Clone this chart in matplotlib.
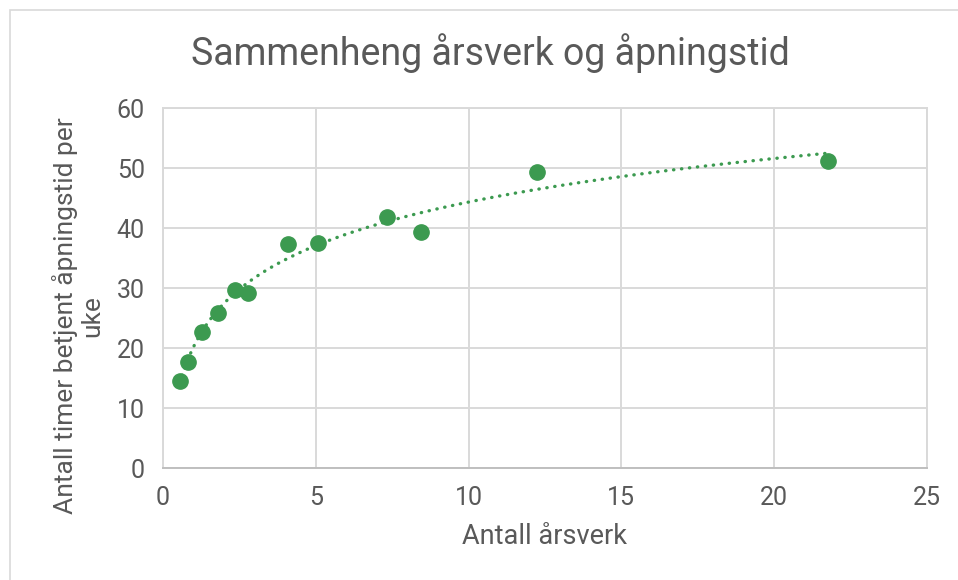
import numpy as np
import matplotlib
matplotlib.use('Agg')
import matplotlib.pyplot as plt
from matplotlib.patches import Rectangle

plt.rcParams['font.family'] = ['Roboto', 'DejaVu Sans']

# data
arsverk = [0.56, 0.81, 1.27, 1.81, 2.37, 2.78, 4.10, 5.07, 7.32, 8.43, 12.24, 21.76]
timer = [14.5, 17.6, 22.7, 25.9, 29.7, 29.1, 37.4, 37.5, 41.9, 39.3, 49.3, 51.2]
xticks = [0, 5, 10, 15, 20, 25]
yticks = [0, 10, 20, 30, 40, 50, 60]

green = '#3C9A50'
grid = '#D9D9D9'
txt = '#595959'

fig = plt.figure(figsize=(9.58, 5.8), dpi=100)
ax = fig.add_axes([163/958, 1-468/580, (927-163)/958, (468-108)/580])

# logarithmic trendline like excel
x = np.array(arsverk)
y = np.array(timer)
a, b = np.polyfit(np.log(x), y, 1)
xt = np.linspace(x.min(), x.max(), 300)
ax.plot(xt, a*np.log(xt)+b, color=green, lw=2.4, linestyle=(0, (0.1, 2.3)),
        dash_capstyle='round', zorder=2)

ax.plot(arsverk, timer, 'o', color=green, ms=11, mec=green, zorder=3)

ax.set_xlim(0, 25)
ax.set_ylim(0, 60)
ax.set_xticks(xticks)
ax.set_yticks(yticks)
ax.grid(True, color=grid, lw=1.4, zorder=0)
ax.set_axisbelow(True)
for s in ['top', 'right', 'left']:
    ax.spines[s].set_color(grid)
    ax.spines[s].set_linewidth(1.4)
ax.spines['bottom'].set_color('#BFBFBF')
ax.spines['bottom'].set_linewidth(1.4)
ax.tick_params(length=0, labelsize=18, labelcolor=txt, pad=13)

ax.set_xlabel('Antall årsverk', fontsize=19.5, color=txt, va='center')
ax.xaxis.set_label_coords(0.5, (468-537)/360)
ax.set_ylabel('Antall timer betjent åpningstid per\nuke', fontsize=19, color=txt,
              va='center', linespacing=1.15)
ax.yaxis.set_label_coords((78-163)/764, (468-316)/360)
fig.text(490/958, 1-53/580, 'Sammenheng årsverk og åpningstid', fontsize=27,
         color=txt, ha='center', va='center')

# chart frame, runs off the right and bottom edges
fig.patches.append(Rectangle((10/958, -0.05), 1.1, 1.05-10/580, transform=fig.transFigure,
                             fill=False, edgecolor=grid, lw=1.2))

fig.savefig('out.png', dpi=100)
